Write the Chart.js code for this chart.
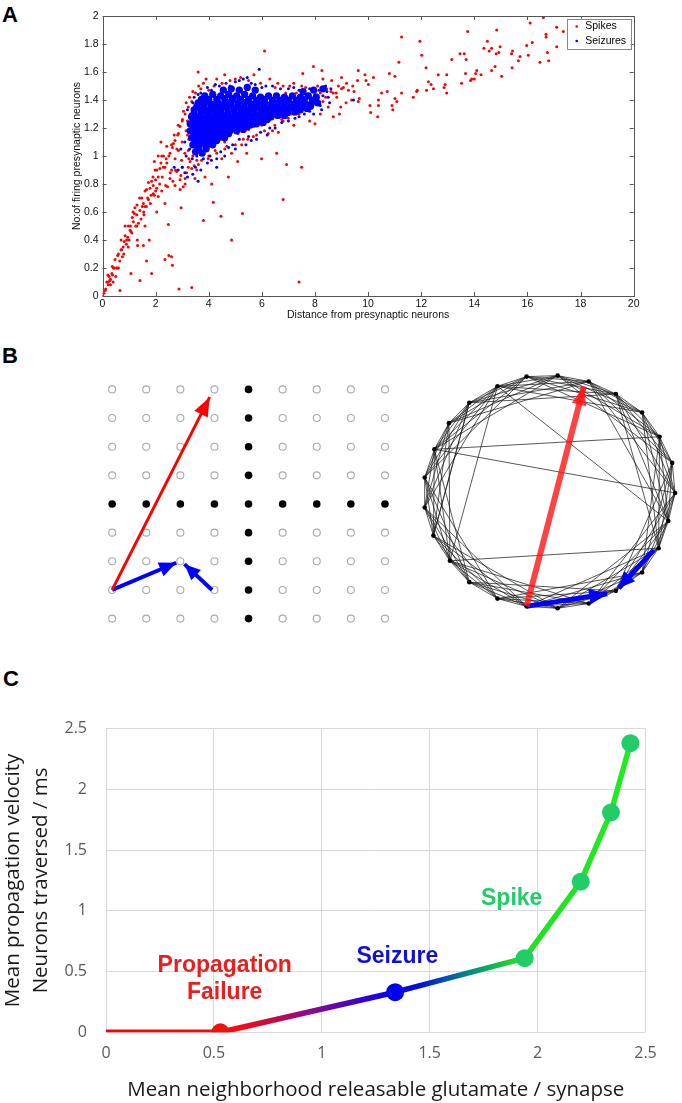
<!DOCTYPE html>
<html>
<head>
<meta charset="utf-8">
<script src="https://cdn.jsdelivr.net/npm/chart.js@4.4.1/dist/chart.umd.min.js"></script>
<style>
  html, body { margin: 0; padding: 0; background: #fff; }
  #page { position: relative; width: 682px; height: 1103px; overflow: hidden; background: #fff; }
  .panel { position: absolute; }
  .tag { position: absolute; font: bold 22px "Liberation Sans", Arial, sans-serif; color: #000; line-height: 1; }
</style>
</head>
<body>
<div id="page">
  <div class="tag" style="left:2px;top:4px">A</div>
  <div class="tag" style="left:2px;top:345px">B</div>
  <div class="tag" style="left:3px;top:668px">C</div>
  <canvas id="chartA" class="panel" style="left:0;top:0" width="682" height="325"></canvas>
  <canvas id="chartGrid" class="panel" style="left:90px;top:370px" width="320" height="268"></canvas>
  <canvas id="chartNet" class="panel" style="left:410px;top:360px" width="272" height="262"></canvas>
  <canvas id="chartC" class="panel" style="left:0;top:700px" width="682" height="403"></canvas>
</div>
<script>
// ---------- panel A : firing vs distance ----------
const distTicks = [0, 2, 4, 6, 8, 10, 12, 14, 16, 18, 20];
const firingTicks = [0, 0.2, 0.4, 0.6, 0.8, 1, 1.2, 1.4, 1.6, 1.8, 2];

const spikes = [
  [0,0],[0.05,0.02],[0.1,0.04],[0.12,0.05],[0.16,0.1],[0.2,0.15],[0.22,0.08],[0.22,0.1],[0.25,0.14],[0.28,0.11],
  [0.3,0.12],[0.3,0.08],[0.35,0.16],[0.37,0.21],[0.38,0.15],[0.4,0.1],[0.41,0.2],[0.45,0.2],[0.47,0.26],[0.5,0.14],
  [0.53,0.2],[0.55,0.2],[0.57,0.29],[0.6,0.2],[0.6,0.3],[0.65,0.25],[0.66,0.04],[0.7,0.33],[0.7,0.4],[0.72,0.33],
  [0.75,0.28],[0.78,0.35],[0.8,0.3],[0.82,0.39],[0.85,0.5],[0.85,0.43],[0.9,0.37],[0.91,0.4],[0.95,0.42],[0.97,0.35],
  [0.97,0.5],[1.0,0.4],[1.04,0.47],[1.05,0.5],[1.07,0.16],[1.07,0.46],[1.1,0.45],[1.12,0.56],[1.15,0.6],[1.16,0.53],
  [1.2,0.59],[1.22,0.63],[1.25,0.5],[1.29,0.5],[1.29,0.58],[1.3,0.65],[1.31,0.4],[1.32,0.36],[1.35,0.52],[1.4,0.7],
  [1.41,0.61],[1.41,0.11],[1.45,0.55],[1.48,0.7],[1.5,0.64],[1.54,0.66],[1.54,0.36],[1.55,0.6],[1.56,0.58],[1.6,0.64],
  [1.6,0.75],[1.6,0.5],[1.65,0.64],[1.66,0.76],[1.66,0.25],[1.7,0.7],[1.73,0.69],[1.73,0.81],[1.76,0.4],[1.79,0.77],
  [1.8,0.66],[1.83,0.72],[1.85,0.82],[1.85,0.16],[1.9,0.85],[1.91,0.73],[1.91,0.79],[1.95,0.72],[1.95,0.96],[1.98,0.9],
  [2.0,0.83],[2.0,0.75],[2.04,0.6],[2.04,0.77],[2.05,0.9],[2.1,0.85],[2.1,0.71],[2.1,1.0],[2.15,0.8],[2.16,0.91],
  [2.2,0.95],[2.2,1.1],[2.23,1.0],[2.23,0.75],[2.25,0.85],[2.29,0.92],[2.3,1.0],[2.35,0.66],[2.35,0.92],[2.35,0.26],
  [2.38,0.79],[2.4,0.98],[2.42,0.95],[2.42,1.07],[2.45,0.78],[2.48,0.51],[2.5,1.0],[2.5,0.29],[2.54,1.02],[2.54,0.84],
  [2.55,0.88],[2.6,0.28],[2.6,0.9],[2.6,1.08],[2.63,1.06],[2.63,0.22],[2.65,0.82],[2.67,1.09],[2.7,1.15],[2.73,0.98],
  [2.73,0.79],[2.73,1.11],[2.75,0.9],[2.79,0.89],[2.8,1.05],[2.83,1.15],[2.85,1.22],[2.86,1.04],[2.86,1.16],[2.88,0.05],
  [2.92,0.76],[2.92,0.83],[2.92,1.21],[2.95,0.86],[2.96,0.63],[2.98,0.97],[3.0,1.1],[3.0,1.25],[3.01,1.26],[3.01,0.92],
  [3.04,0.78],[3.1,1.02],[3.11,0.8],[3.11,0.84],[3.11,1.3],[3.15,1.18],[3.17,0.88],[3.2,1.15],[3.2,1.25],[3.23,1.04],
  [3.23,0.92],[3.23,1.35],[3.25,0.98],[3.25,1.12],[3.3,1.3],[3.3,0.96],[3.35,1.2],[3.36,0.06],[3.36,0.91],[3.36,1.39],
  [3.4,1.0],[3.45,0.93],[3.48,1.02],[3.48,1.11],[3.48,0.84],[3.5,1.45],[3.55,0.9],[3.55,0.97],[3.6,1.6],[3.61,0.94],
  [3.7,1.48],[3.73,0.97],[3.8,0.54],[3.86,0.85],[3.86,1.09],[3.9,1.55],[3.98,0.98],[4.0,1.47],[4.0,1.0],[4.11,0.8],
  [4.11,1.13],[4.17,0.67],[4.2,1.5],[4.24,1.04],[4.3,1.02],[4.46,0.57],[4.49,0.98],[4.5,1.52],[4.6,1.58],[4.6,1.05],
  [4.68,1.07],[4.74,0.85],[4.86,1.02],[4.86,0.4],[5.0,1.55],[5.0,1.08],[5.09,0.96],[5.2,1.56],[5.24,1.08],[5.27,0.59],
  [5.3,1.12],[5.43,1.02],[5.47,1.12],[5.68,1.14],[5.7,1.58],[5.8,1.15],[5.99,0.98],[6.1,1.75],[6.1,1.18],[6.24,1.16],
  [6.3,1.55],[6.0,1.22],[6.2,1.28],[6.4,1.18],[6.49,1.22],[6.56,1.02],[6.62,1.17],[6.6,1.3],[6.6,1.52],[6.75,1.26],
  [6.8,0.69],[6.8,1.25],[6.8,1.5],[6.93,0.94],[6.9,1.45],[7.0,1.27],[7.0,1.32],[7.1,1.38],[7.19,1.3],[7.2,1.22],
  [7.2,1.52],[7.3,1.45],[7.4,0.1],[7.4,1.3],[7.5,0.92],[7.5,1.4],[7.5,1.5],[7.54,1.59],[7.6,1.35],[7.7,1.42],
  [7.8,1.25],[7.9,1.47],[7.94,1.64],[8.0,1.38],[8.0,1.23],[8.1,1.5],[8.2,1.3],[8.26,1.61],[8.3,1.55],[8.4,1.42],
  [8.44,1.48],[8.5,1.35],[8.6,1.46],[8.63,1.54],[8.69,1.45],[8.69,1.28],[8.8,1.45],[8.82,1.42],[8.88,1.5],[8.92,1.3],
  [8.97,1.35],[9.0,1.48],[9.0,1.56],[9.07,1.49],[9.17,1.38],[9.19,1.52],[9.26,1.47],[9.38,1.4],[9.42,1.5],[9.47,1.46],
  [9.6,1.54],[9.63,1.61],[9.63,1.39],[9.67,1.41],[9.88,1.58],[9.92,1.54],[10.01,1.51],[10.07,1.36],[10.1,1.31],[10.2,1.56],
  [10.36,1.28],[10.39,1.4],[10.39,1.36],[10.51,1.45],[10.72,1.46],[10.8,1.59],[10.9,1.36],[10.93,1.33],[11.01,1.57],[11.01,1.41],
  [11.08,1.39],[11.16,1.67],[11.26,1.85],[11.26,1.45],[11.7,1.42],[11.83,1.46],[11.85,1.47],[11.95,1.82],[12.02,1.72],[12.18,1.63],
  [12.2,1.47],[12.27,1.53],[12.37,1.51],[12.46,1.48],[12.64,1.58],[12.86,1.49],[12.9,1.51],[12.96,1.58],[12.96,1.45],[13.15,1.69],
  [13.46,1.73],[13.52,1.52],[13.62,1.73],[13.67,1.59],[13.69,1.69],[13.75,1.89],[13.86,1.54],[13.9,1.55],[14.0,1.55],[14.05,1.59],
  [14.09,1.61],[14.25,1.58],[14.36,1.77],[14.49,1.82],[14.56,1.75],[14.65,1.77],[14.65,1.61],[14.78,1.64],[14.82,1.73],[14.84,1.9],
  [14.92,1.74],[14.97,1.78],[15.03,1.57],[15.4,1.73],[15.42,1.63],[15.44,1.75],[15.66,1.68],[15.72,1.71],[15.97,1.79],[16.03,1.72],
  [16.1,1.95],[16.18,1.81],[16.47,1.67],[16.6,1.99],[16.7,1.87],[16.7,1.85],[16.75,1.74],[16.8,1.68],[17.1,1.92],[17.1,1.78],
  [17.35,1.89],
  // red fringe around the cloud
  [3.05,1.32],[3.15,1.38],[3.28,1.42],[3.4,1.46],[3.62,1.5],[3.8,1.52],[4.3,1.55],[4.8,1.54],[5.5,1.54],[5.95,1.52],
  [6.5,1.49],[7.05,1.5],[7.65,1.49],[8.2,1.45],[3.5,1.05],[3.7,1.04],[3.9,1.06],[4.2,1.09],[4.5,1.12],[4.8,1.15],
  [5.1,1.16],[5.5,1.19],[5.9,1.24],[6.3,1.26],[6.7,1.28],[7.1,1.3],[7.5,1.33],[7.9,1.35],[8.3,1.39],[5.7,1.21],
  [6.9,1.33],[7.3,1.36],[7.7,1.38],[8.1,1.41],[6.1,1.26],[5.3,1.18],[4.6,1.1],[4.0,1.07]
];

// scattered seizure points around the edge of the cloud
const seizures = [
  [2.7,0.92],[2.85,0.9],[2.95,1.05],[3.0,0.92],[3.1,0.88],[3.1,1.1],[3.15,1.0],[3.2,0.85],[3.2,1.33],[3.25,1.22],
  [3.4,0.87],[3.4,1.38],[3.5,0.92],[3.6,0.82],[3.7,0.9],[3.7,1.45],[3.95,0.95],[4.1,0.97],[4.1,1.47],[4.3,0.92],
  [4.3,0.98],[4.4,1.5],[4.6,1.0],[4.8,1.5],[4.9,1.08],[5.0,1.05],[5.0,1.53],[5.3,1.55],[5.4,1.08],[5.6,1.11],
  [5.6,1.52],[5.8,1.12],[5.9,1.62],[6.0,1.49],[6.2,1.15],[6.4,1.5],[6.5,1.2],[6.9,1.28],[7.0,1.25],[7.2,1.49],
  [7.4,1.28],[7.6,1.3],[7.8,1.32],[8.0,1.44],[8.2,1.36],[8.3,1.43],[8.4,1.5],[8.5,1.42],[8.6,1.48],[9.45,1.4],
  [3.3,1.12],[3.28,1.05],[3.45,1.42],[3.6,1.44],[3.95,1.49],[4.25,1.51],[4.65,1.52],[5.15,1.54],[5.45,1.56],[5.75,1.51],
  [6.15,1.5],[6.7,1.48],[7.0,1.48],[7.4,1.47],[7.8,1.48],[8.15,1.47],[8.45,1.46],[8.55,1.38],[8.25,1.33],[7.95,1.3],
  [7.25,1.27],[6.75,1.24],[6.3,1.2],[5.95,1.17],[5.5,1.14],[5.15,1.12],[4.75,1.06],[4.45,1.03],[4.05,1.0],[3.8,0.98],
  [3.55,1.0],[3.38,0.98]
];

// dense core of the seizure cloud (estimated from the solid blue area)
const seizureCloud = [
  [4.55,1.47],[4.85,1.48],[5.15,1.47],[5.45,1.49],[5.75,1.47],[7.55,1.46],[7.95,1.47],[8.3,1.48],
  [3.85,1.43],[4.15,1.44],[4.45,1.43],[4.75,1.44],[5.05,1.43],[5.35,1.44],[5.65,1.43],[5.95,1.42],[6.25,1.43],[6.55,1.43],
  [6.85,1.42],[7.15,1.43],[7.45,1.42],[7.75,1.43],[8.05,1.42],
  [3.6,1.38],[3.85,1.38],[4.1,1.37],[4.35,1.38],[4.6,1.38],[4.85,1.39],[5.1,1.38],[5.35,1.38],[5.6,1.37],[5.85,1.38],
  [6.1,1.38],[6.35,1.37],[6.6,1.38],[6.85,1.38],[7.1,1.37],[7.35,1.38],[7.6,1.38],[7.85,1.37],[8.1,1.38],
  [3.45,1.33],[3.7,1.33],[3.95,1.32],[4.2,1.33],[4.45,1.33],[4.7,1.34],[4.95,1.33],[5.2,1.33],[5.45,1.32],[5.7,1.33],
  [5.95,1.33],[6.2,1.33],[6.45,1.32],[6.7,1.33],[6.95,1.33],[7.2,1.34],[7.45,1.33],[7.7,1.34],
  [3.35,1.28],[3.6,1.28],[3.85,1.27],[4.1,1.28],[4.35,1.28],[4.6,1.28],[4.85,1.27],[5.1,1.28],[5.35,1.28],[5.6,1.28],
  [5.85,1.27],[6.1,1.28],[6.35,1.28],[6.6,1.29],[6.85,1.29],
  [3.3,1.23],[3.55,1.23],[3.8,1.22],[4.05,1.23],[4.3,1.23],[4.55,1.23],[4.8,1.22],[5.05,1.23],[5.3,1.23],[5.55,1.22],
  [5.8,1.23],[6.05,1.24],
  [3.3,1.18],[3.55,1.18],[3.8,1.17],[4.05,1.18],[4.3,1.18],[4.55,1.18],[4.8,1.18],[5.05,1.18],[5.3,1.19],
  [3.35,1.13],[3.6,1.13],[3.85,1.12],[4.1,1.13],[4.35,1.13],[4.6,1.13],
  [3.4,1.08],[3.65,1.08],[3.9,1.07],[4.15,1.08],
  [3.5,1.03],[3.75,1.02],
  // in-between points to close the gaps of the core
  [3.72,1.405],[4.0,1.405],[4.3,1.405],[4.6,1.41],[4.9,1.41],[5.2,1.405],[5.5,1.405],[5.8,1.40],[6.1,1.405],[6.4,1.40],
  [6.7,1.40],[7.0,1.40],[7.3,1.40],[7.6,1.405],[7.9,1.40],
  [3.55,1.355],[3.82,1.355],[4.08,1.35],[4.33,1.355],[4.58,1.355],[4.83,1.36],[5.08,1.355],[5.33,1.35],[5.58,1.35],[5.83,1.355],
  [6.08,1.355],[6.33,1.35],[6.58,1.355],[6.83,1.355],[7.08,1.355],[7.33,1.36],[7.58,1.36],[7.83,1.355],
  [3.45,1.305],[3.72,1.305],[3.98,1.30],[4.23,1.305],[4.48,1.305],[4.73,1.305],[4.98,1.30],[5.23,1.305],[5.48,1.30],[5.73,1.30],
  [5.98,1.305],[6.23,1.305],[6.48,1.305],[6.73,1.31],[6.98,1.31],[7.25,1.315],
  [3.42,1.255],[3.68,1.255],[3.93,1.25],[4.18,1.255],[4.43,1.255],[4.68,1.25],[4.93,1.25],[5.18,1.255],[5.43,1.25],[5.68,1.25],
  [5.93,1.255],[6.2,1.26],
  [3.42,1.205],[3.68,1.20],[3.93,1.20],[4.18,1.205],[4.43,1.205],[4.68,1.20],[4.93,1.20],[5.18,1.205],[5.45,1.21],
  [3.45,1.155],[3.72,1.15],[3.98,1.155],[4.23,1.155],[4.48,1.15],[4.75,1.16],
  [3.5,1.105],[3.78,1.10],[4.03,1.105],[4.3,1.11],[3.62,1.055],[3.9,1.05]
];

// ---------- panel B : grid lattice and small-world ring ----------
const gridCols = [1, 2, 3, 4, 5, 6, 7, 8, 9];
const gridRows = [1, 2, 3, 4, 5, 6, 7, 8, 9];
const hubCol = 5;
const hubRow = 5;
const gridArrows = [
  { from: [1, 8], to: [3.86, 1.27], color: '#ff0000', width: 3, head: [19, 15] },
  { from: [1, 8], to: [2.88, 7.05], color: '#0000ff', width: 4, head: [17, 15] },
  { from: [3.93, 8], to: [3.12, 7.1], color: '#0000ff', width: 4, head: [16, 14] }
];

const ringNodes = [
  [-24,119],[8,120],[40,114],[68,101],[95,82],[113,57],[126,30],[129,-1],[122,-30],[112,-58],
  [95,-83],[68,-102],[40,-115],[8,-120],[-24,-118],[-54,-110],[-83,-93],[-103,-71],[-120,-45],[-129,-16],
  [-129,15],[-119,44],[-104,71],[-83,92],[-54,109]
];
const ringReach = 5;
const shortcutEdges = [[21,5],[21,7],[24,8],[24,17],[23,18],[2,8],[3,9],[17,9]];
const ringArrows = [
  { from: [-24,-118], to: [35,109], color: 'rgba(255,20,20,0.8)', width: 6, head: [19, 15] },
  { from: [-24,-118], to: [59,-105], color: '#0000ff', width: 5, head: [18, 16] },
  { from: [107,-60], to: [71,-99], color: '#0000ff', width: 5, head: [16, 15] }
];

// ---------- panel C : propagation velocity ----------
const glutamate = [0, 0.53, 1.34, 1.94, 2.2, 2.34, 2.43];
const velocity = [0, 0, 0.33, 0.61, 1.24, 1.81, 2.38];
const regime = ['failure', 'failure', 'seizure', 'spike', 'spike', 'spike', 'spike'];
const glutTicks = [0, 0.5, 1, 1.5, 2, 2.5];
const velTicks = [0, 0.5, 1, 1.5, 2, 2.5];

const regimeColor = { failure: '#f01010', seizure: '#0000ee', spike: '#22cc66' };
const lineStops = [[0, '#ff0000'], [0.62, '#f80a10'], [0.95, '#8c0a8c'], [1.28, '#1400e6'], [1.45, '#0010d8'],
                   [1.68, '#008a8a'], [1.9, '#22dd22'], [2.5, '#22ee22']];
const regimeLabels = [
  { text: 'Propagation', at: [0.55, 0.55], color: '#ee1c1c' },
  { text: 'Failure', at: [0.55, 0.33], color: '#ee1c1c' },
  { text: 'Seizure', at: [1.35, 0.62], color: '#1010dd' },
  { text: 'Spike', at: [1.88, 1.1], color: '#22cc66' }
];

Chart.defaults.animation = false;
Chart.defaults.plugins.tooltip.enabled = false;
Chart.defaults.plugins.legend.display = false;

const toXY = pts => pts.map(([x, y]) => ({ x, y }));
const useTicks = list => scale => { scale.ticks = list.map(value => ({ value })); };
const plainLabel = v => String(v);

// inward MATLAB style ticks and box
const matlabAxes = {
  id: 'matlabAxes',
  afterDatasetsDraw(chart) {
    const { ctx, chartArea: a, scales: { x, y } } = chart;
    const t = 4;
    ctx.save();
    ctx.strokeStyle = '#555';
    ctx.lineWidth = 1;
    ctx.beginPath();
    x.ticks.forEach(tk => {
      const px = Math.round(x.getPixelForValue(tk.value)) + 0.5;
      ctx.moveTo(px, a.bottom); ctx.lineTo(px, a.bottom - t);
      ctx.moveTo(px, a.top); ctx.lineTo(px, a.top + t);
    });
    y.ticks.forEach(tk => {
      const py = Math.round(y.getPixelForValue(tk.value)) + 0.5;
      ctx.moveTo(a.left, py); ctx.lineTo(a.left + t, py);
      ctx.moveTo(a.right, py); ctx.lineTo(a.right - t, py);
    });
    ctx.stroke();
    ctx.strokeRect(Math.round(a.left) + 0.5, Math.round(a.top) + 0.5, Math.round(a.right - a.left), Math.round(a.bottom - a.top));
    ctx.restore();
  }
};

// boxed legend in the upper right corner
const boxLegend = {
  id: 'boxLegend',
  afterDraw(chart) {
    const { ctx, chartArea: a } = chart;
    const items = chart.data.datasets.filter(d => d.legendRank).sort((p, q) => p.legendRank - q.legendRank);
    const w = 64, h = 30, left = a.right - 3 - w, top = a.top + 2.5;
    ctx.save();
    ctx.fillStyle = '#fff';
    ctx.fillRect(left, top, w, h);
    ctx.strokeStyle = '#888';
    ctx.lineWidth = 1;
    ctx.strokeRect(Math.round(left) + 0.5, Math.round(top) + 0.5, w, h);
    ctx.font = '10.5px "Liberation Sans", Arial, sans-serif';
    ctx.textBaseline = 'middle';
    items.forEach((d, i) => {
      const cy = top + 8 + i * 14.5;
      ctx.fillStyle = d.pointBackgroundColor;
      ctx.beginPath(); ctx.arc(left + 10, cy, 1.3, 0, Math.PI * 2); ctx.fill();
      ctx.fillStyle = '#000';
      ctx.fillText(d.label, left + 18.5, cy);
    });
    ctx.restore();
  }
};

// arrow heads at the last point of datasets carrying a head spec
const arrowHeads = {
  id: 'arrowHeads',
  afterDatasetsDraw(chart) {
    const { ctx } = chart;
    chart.data.datasets.forEach((ds, i) => {
      if (!ds.head) return;
      const pts = chart.getDatasetMeta(i).data;
      const a = pts[pts.length - 2], b = pts[pts.length - 1];
      const ang = Math.atan2(b.y - a.y, b.x - a.x);
      const [len, wid] = ds.head;
      const c = Math.cos(ang), s = Math.sin(ang);
      ctx.save();
      ctx.fillStyle = ds.borderColor;
      ctx.beginPath();
      ctx.moveTo(b.x, b.y);
      ctx.lineTo(b.x - len * c + wid / 2 * s, b.y - len * s - wid / 2 * c);
      ctx.lineTo(b.x - len * c - wid / 2 * s, b.y - len * s + wid / 2 * c);
      ctx.closePath();
      ctx.fill();
      ctx.restore();
    });
  }
};

// text labels anchored in data units
const regimeText = {
  id: 'regimeText',
  afterDatasetsDraw(chart) {
    const { ctx, scales: { x, y } } = chart;
    ctx.save();
    ctx.font = 'bold 23px "Liberation Sans", Arial, sans-serif';
    ctx.textAlign = 'center';
    ctx.textBaseline = 'middle';
    regimeLabels.forEach(l => {
      ctx.fillStyle = l.color;
      ctx.fillText(l.text, x.getPixelForValue(l.at[0]), y.getPixelForValue(l.at[1]));
    });
    ctx.restore();
  }
};

function arrowDataset(a) {
  return {
    data: toXY([a.from, a.to]), showLine: true, borderColor: a.color, borderWidth: a.width,
    borderCapStyle: 'butt', pointRadius: 0, head: a.head, order: 0, clip: false
  };
}

// ---------- draw panel A ----------
const fontA = { family: '"Liberation Sans", Arial, sans-serif', size: 10.5 };
new Chart(document.getElementById('chartA'), {
  type: 'scatter',
  data: {
    datasets: [
      { label: 'Seizures', data: toXY(seizureCloud), pointBackgroundColor: '#0000ff', pointBorderWidth: 0, pointRadius: 3.6, order: 1 },
      { label: 'Seizures', data: toXY(seizures), pointBackgroundColor: '#0000ff', pointBorderWidth: 0, pointRadius: 1.5, order: 1, legendRank: 2 },
      { label: 'Spikes', data: toXY(spikes), pointBackgroundColor: '#ff0000', pointBorderWidth: 0, pointRadius: 1.5, order: 2, legendRank: 1 }
    ]
  },
  options: {
    responsive: false,
    layout: { padding: { left: 70.7, right: 48.3, top: 16, bottom: 3.7 } },
    scales: {
      x: {
        type: 'linear', min: 0, max: 20,
        afterBuildTicks: useTicks(distTicks),
        afterFit: s => { s.height = 25.3; },
        grid: { display: false, drawTicks: false }, border: { display: false },
        ticks: { color: '#111', font: fontA, padding: 2, maxRotation: 0, autoSkip: false, callback: plainLabel },
        title: { display: true, text: 'Distance from presynaptic neurons', color: '#111', font: fontA, padding: 0 }
      },
      y: {
        type: 'linear', min: 0, max: 2,
        afterBuildTicks: useTicks(firingTicks),
        afterFit: s => { s.width = 31.8; },
        grid: { display: false, drawTicks: false }, border: { display: false },
        ticks: { color: '#111', font: fontA, padding: 4, autoSkip: false, callback: plainLabel },
        title: { display: true, text: 'No:of firing presynaptic neurons', color: '#111', font: fontA, padding: 0 }
      }
    }
  },
  plugins: [matlabAxes, boxLegend]
});

// ---------- draw panel B, lattice ----------
const openNodes = [], hubNodes = [];
gridRows.forEach(r => gridCols.forEach(c => {
  (c === hubCol || r === hubRow ? hubNodes : openNodes).push({ x: c, y: r });
}));
new Chart(document.getElementById('chartGrid'), {
  type: 'scatter',
  data: {
    datasets: [
      ...gridArrows.map(arrowDataset),
      { data: hubNodes, pointBackgroundColor: '#000', pointBorderWidth: 0, pointRadius: 3.8, order: 1 },
      { data: openNodes, pointBackgroundColor: '#fff', pointBorderColor: '#ababab', pointBorderWidth: 1.1, pointRadius: 3.5, order: 1 }
    ]
  },
  options: {
    responsive: false,
    layout: { padding: { left: 4.6, right: 8, top: 4.6, bottom: 4.9 } },
    scales: {
      x: { type: 'linear', min: 0.5, max: 9.5, display: false },
      y: { type: 'linear', min: 0.5, max: 9.5, reverse: true, display: false }
    }
  },
  plugins: [arrowHeads]
});

// ---------- draw panel B, small-world ring ----------
const ringEdges = [];
ringNodes.forEach((p, i) => {
  for (let d = 1; d <= ringReach; d++) ringEdges.push([i, (i + d) % ringNodes.length]);
});
const edgeSets = ringEdges.concat(shortcutEdges).map(([a, b]) => ({
  data: toXY([ringNodes[a], ringNodes[b]]), showLine: true, borderColor: '#111', borderWidth: 0.7,
  pointRadius: 0, order: 2, clip: false
}));
new Chart(document.getElementById('chartNet'), {
  type: 'scatter',
  data: {
    datasets: [
      ...ringArrows.map(arrowDataset),
      { data: toXY(ringNodes), pointBackgroundColor: '#000', pointBorderWidth: 0, pointRadius: 2.3, order: 1, clip: false },
      ...edgeSets
    ]
  },
  options: {
    responsive: false,
    layout: { padding: 0 },
    scales: {
      x: { type: 'linear', min: -140, max: 132, display: false },
      y: { type: 'linear', min: -130, max: 132, display: false }
    }
  },
  plugins: [arrowHeads]
});

// ---------- draw panel C ----------
const fontC = { family: '"Open Sans", Arial, sans-serif', size: 16 };
const titleFontC = { family: '"Open Sans", Arial, sans-serif', size: 20.5 };
new Chart(document.getElementById('chartC'), {
  type: 'line',
  data: {
    datasets: [{
      data: glutamate.map((g, i) => ({ x: g, y: velocity[i] })),
      borderWidth: 5.5,
      borderJoinStyle: 'round',
      borderColor: ctx => {
        const { chart } = ctx;
        if (!chart.chartArea) return '#ff0000';
        const x = chart.scales.x;
        const g = chart.ctx.createLinearGradient(x.getPixelForValue(0), 0, x.getPixelForValue(2.5), 0);
        lineStops.forEach(([v, c]) => g.addColorStop(v / 2.5, c));
        return g;
      },
      pointRadius: glutamate.map((g, i) => (i === 0 ? 0 : 9)),
      pointBackgroundColor: regime.map(r => regimeColor[r]),
      pointBorderWidth: 0,
      tension: 0
    }]
  },
  options: {
    responsive: false,
    layout: { padding: { left: 0, right: 36.5, top: 19, bottom: 1.3 } },
    scales: {
      x: {
        type: 'linear', min: 0, max: 2.5,
        afterBuildTicks: useTicks(glutTicks),
        afterFit: s => { s.height = 69.4; },
        grid: { color: '#d9d9d9', drawTicks: false }, border: { display: false },
        ticks: { color: '#595959', font: fontC, padding: 12, maxRotation: 0, autoSkip: false, callback: plainLabel },
        title: { display: true, text: 'Mean neighborhood releasable glutamate / synapse', color: '#1a1a1a', font: { ...titleFontC, lineHeight: 1.15 }, padding: 0 }
      },
      y: {
        type: 'linear', min: 0, max: 2.5,
        afterBuildTicks: useTicks(velTicks),
        afterFit: s => { s.width = 106; },
        grid: { color: '#d9d9d9', drawTicks: false }, border: { display: false },
        ticks: { color: '#595959', font: fontC, padding: 19, autoSkip: false, callback: plainLabel },
        title: { display: true, text: ['Mean propagation velocity', 'Neurons traversed / ms'], color: '#1a1a1a', font: { ...titleFontC, lineHeight: 1.33 }, padding: 0 }
      }
    }
  },
  plugins: [regimeText]
});
</script>
</body>
</html>
